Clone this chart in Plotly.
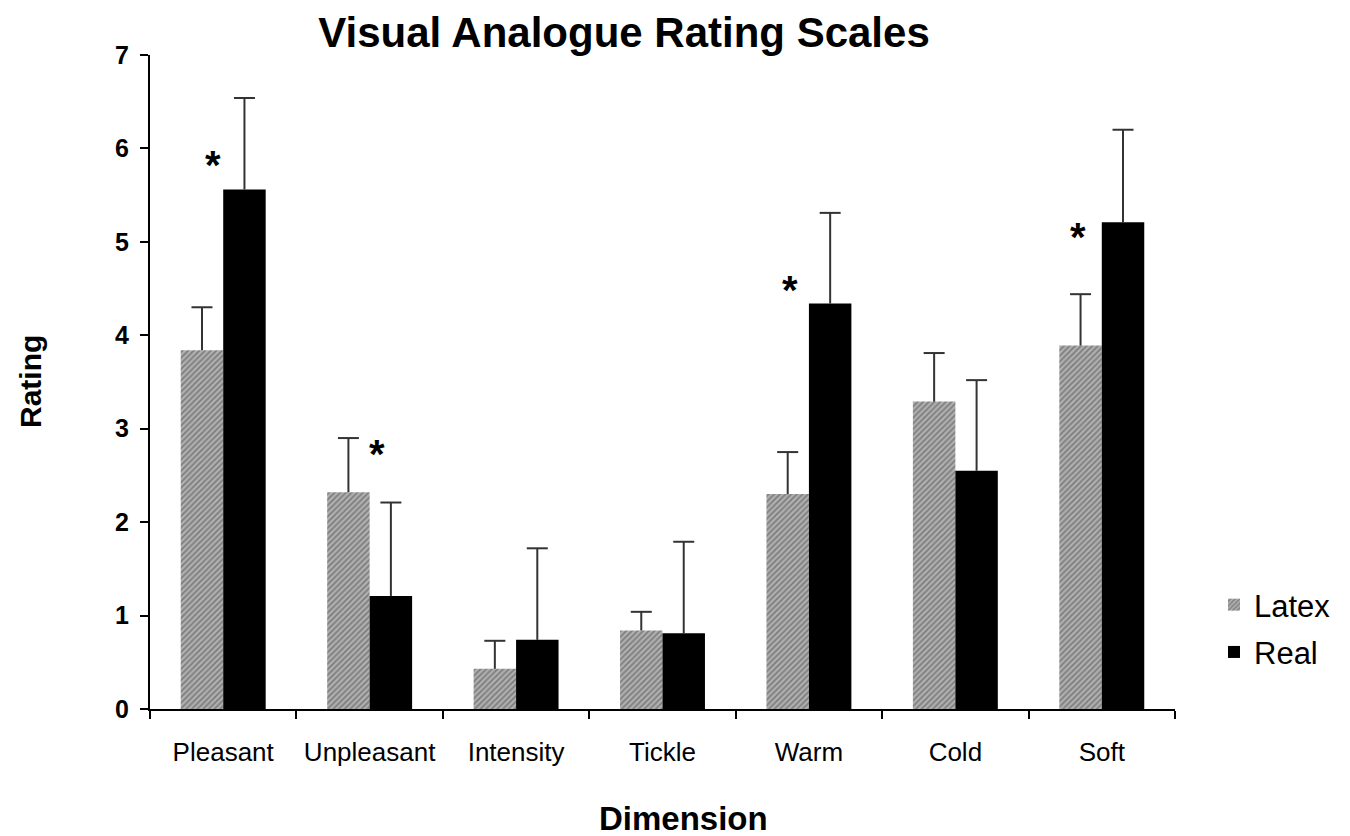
import plotly.graph_objects as go

categories = ["Pleasant", "Unpleasant", "Intensity", "Tickle", "Warm", "Cold", "Soft"]
latex_mean = [3.84, 2.32, 0.43, 0.84, 2.30, 3.29, 3.89]
latex_err = [0.46, 0.58, 0.30, 0.20, 0.45, 0.52, 0.55]
real_mean = [5.56, 1.21, 0.74, 0.81, 4.34, 2.55, 5.21]
real_err = [0.98, 1.00, 0.98, 0.98, 0.97, 0.97, 0.99]

# significance markers
star_cat = ["Pleasant", "Unpleasant", "Warm", "Soft"]
star_y = [5.90, 2.80, 4.56, 5.13]
star_dx = [-0.07, 0.05, -0.13, -0.16]

FONT = "Liberation Sans, Arial, sans-serif"
BARGAP = 0.42
half = (1 - BARGAP) / 4  # offset of each bar center from category center
ERRC = "#333333"

fig = go.Figure()
fig.add_trace(go.Bar(
    name="Latex", x=categories, y=latex_mean, legendgroup="a",
    marker=dict(color="#9a9a9a", line=dict(width=0),
                pattern=dict(shape="/", size=4, solidity=0.45,
                             fgcolor="#4a4a4a", bgcolor="#b0b0b0")),
))
fig.add_trace(go.Bar(
    name="Real", x=categories, y=real_mean, legendgroup="b",
    marker=dict(color="#000000", line=dict(width=0)),
))

# one-sided error bars (cap only at the top) on an overlaid numeric axis
for means, errs, off in [(latex_mean, latex_err, -half), (real_mean, real_err, half)]:
    fig.add_trace(go.Scatter(
        x=[i + off for i in range(len(categories))],
        y=[m + e for m, e in zip(means, errs)],
        xaxis="x2", mode="markers", showlegend=False, hoverinfo="skip",
        marker=dict(symbol="line-ew", size=15, color=ERRC, line=dict(width=2, color=ERRC)),
        error_y=dict(type="data", array=[0] * len(errs), arrayminus=errs, symmetric=False,
                     color=ERRC, thickness=2, width=0),
    ))

annotations = []
for c, yv, dx in zip(star_cat, star_y, star_dx):
    idx = categories.index(c)
    annotations.append(dict(x=idx + dx, y=yv, xref="x2", yref="y", text="<b>*</b>",
                            showarrow=False, font=dict(family=FONT, size=40, color="black"),
                            yshift=-7))
annotations.append(dict(x=(30 - 150) / 1025, y=(709 - 382) / 654, xref="paper", yref="paper",
                        xanchor="center", yanchor="middle",
                        text="<b>Rating</b>", textangle=-90, showarrow=False,
                        font=dict(family=FONT, size=30, color="black")))
annotations.append(dict(x=(683 - 150) / 1025, y=(709 - 818) / 654, xref="paper", yref="paper",
                        xanchor="center", yanchor="middle",
                        text="<b>Dimension</b>", showarrow=False,
                        font=dict(family=FONT, size=33, color="black")))

fig.update_layout(
    width=1350, height=836,
    margin=dict(l=150, r=175, t=55, b=127),
    paper_bgcolor="white", plot_bgcolor="white",
    barmode="group", bargap=BARGAP, bargroupgap=0,
    title=dict(text="<b>Visual Analogue Rating Scales</b>", x=624 / 1350, xanchor="center",
               y=1 - 32 / 836, yanchor="middle", yref="container",
               font=dict(family=FONT, size=42, color="black")),
    font=dict(family=FONT, color="black"),
    legend=dict(x=(1214 - 150) / 1025, y=(709 - 578) / 654, xanchor="left", yanchor="top",
                font=dict(family=FONT, size=31, color="black"),
                tracegroupgap=4, itemwidth=30, bgcolor="rgba(0,0,0,0)"),
    annotations=annotations,
    showlegend=True,
    xaxis2=dict(overlaying="x", range=[-0.5, 6.5], visible=False, fixedrange=True),
)
fig.layout.xaxis.update(
    type="category", showline=True, linecolor="black", linewidth=2,
    ticks="outside", tickson="boundaries", ticklen=8, tickwidth=2, tickcolor="black",
    tickfont=dict(family=FONT, size=26, color="black"), showgrid=False,
    range=[-0.5, 6.5], ticklabelstandoff=19, tickangle=0, automargin=False,
)
fig.update_yaxes(
    range=[0, 7], dtick=1, showline=True, linecolor="black", linewidth=2,
    ticks="outside", ticklen=8, tickwidth=2, tickcolor="black",
    tickfont=dict(family=FONT, size=25, color="black"), showgrid=False,
    zeroline=False, tickprefix="<b>", ticksuffix="</b>", ticklabelstandoff=6,
    automargin=False,
)

fig.write_html("out.html")
